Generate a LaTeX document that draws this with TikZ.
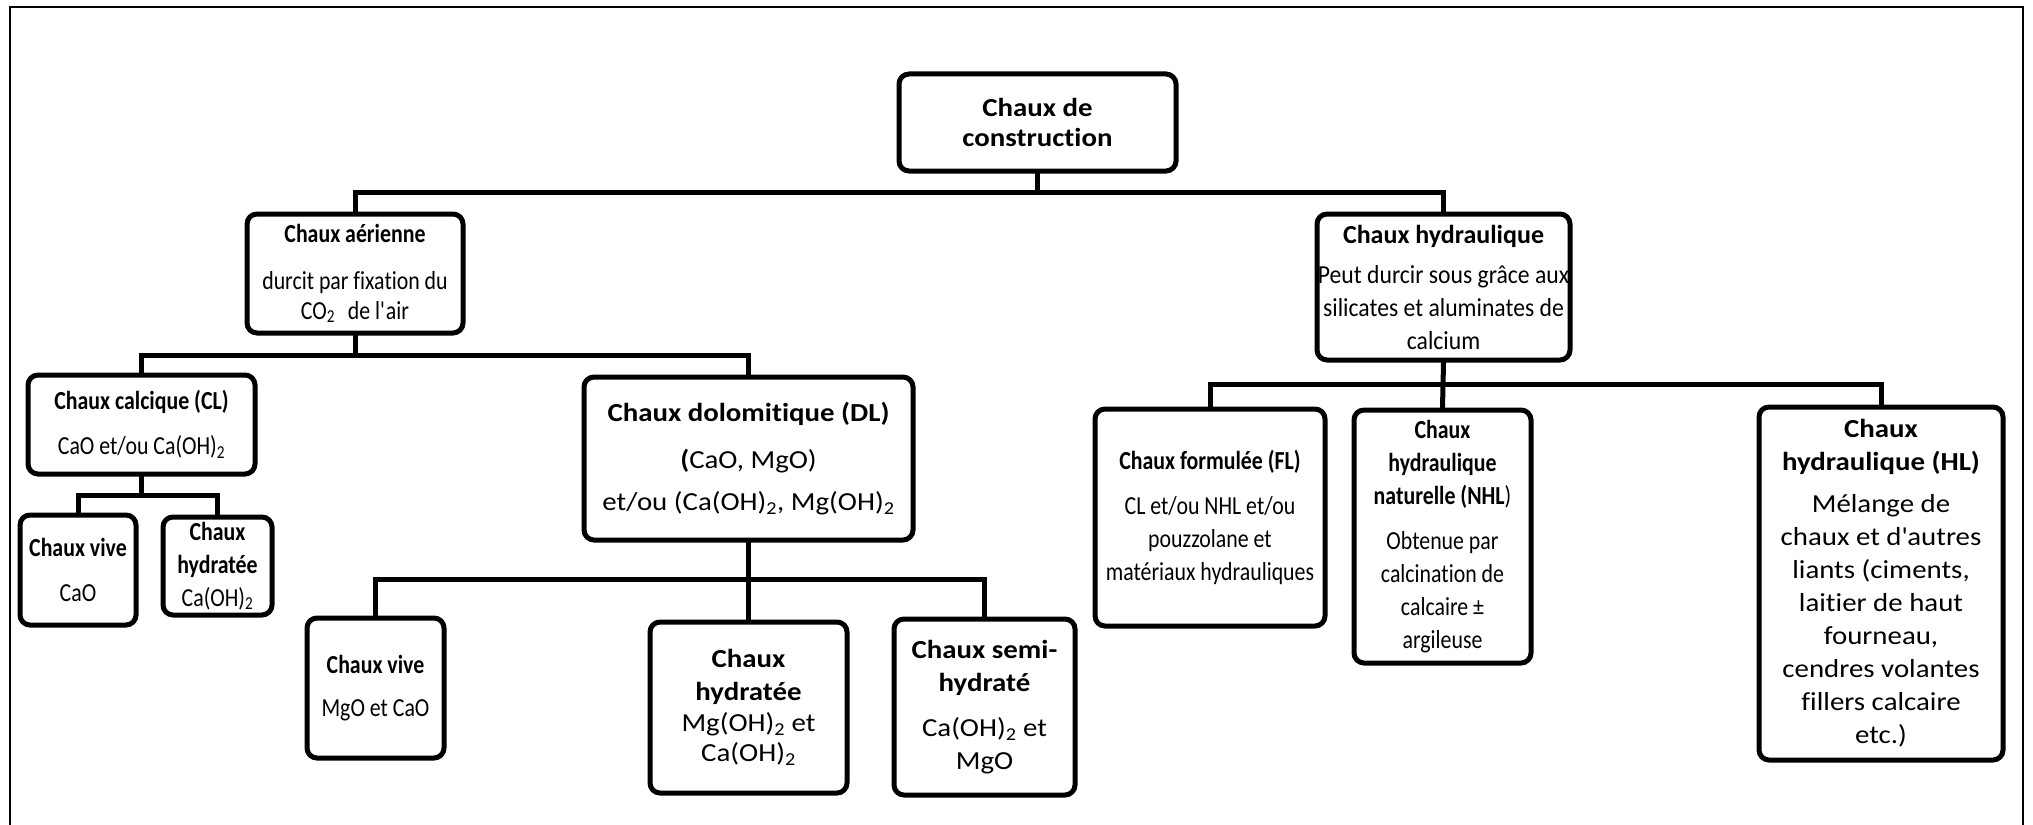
\documentclass[tikz,border=0pt]{standalone}
\usepackage{fontspec}
\setmainfont{Carlito}[Ligatures={NoCommon}]
\newfontfamily\narrowfam{Carlito}[FakeStretch=0.84, Ligatures={NoCommon}]
\newfontfamily\widefam{Carlito}[FakeStretch=1.11, Ligatures={NoCommon}]
\newfontfamily\hydfam{Carlito}[FakeStretch=0.91, Ligatures={NoCommon}]
\newcommand{\apos}{\textquotesingle}
\begin{document}
\begin{tikzpicture}[x=1pt,y=-1pt,
  box/.style={draw, line width=5pt, rounded corners=10pt, inner sep=0pt, align=center, fill=white},
  fsmall/.style={font=\fontsize{26}{33}\narrowfam},
  fbig/.style={font=\fontsize{26}{33}\widefam},
  conn/.style={line width=5pt, line join=miter, line cap=rect},
  frame/.style={line width=2pt}]
\useasboundingbox (0,0) rectangle (2033,824);
\draw[frame] (10,830) -- (10,7) -- (2023,7) -- (2023,830);

\node[box, fbig, minimum width=277pt, minimum height=97pt] (root) at (1037.5,122.5)
  {\textbf{Chaux de}\\[-3pt]\textbf{construction}};
\node[box, fsmall, minimum width=216pt, minimum height=119pt] (aer) at (355,273.5)
  {\textbf{Chaux aérienne}\\[14pt]durcit par fixation du\\[-3pt]CO\textsubscript{2}\hspace{0.3em} de l\apos air};
\node[box, font=\fontsize{26}{33}\hydfam, minimum width=253pt, minimum height=146pt] (hyd) at (1443.5,287)
  {{\rmfamily\textbf{Chaux hydraulique}}\\[7pt]Peut durcir sous grâce aux\\silicates et aluminates de\\calcium};
\node[box, fsmall, minimum width=227pt, minimum height=99pt] (cl) at (141.5,424.5)
  {\textbf{Chaux calcique (CL)}\\[12pt]CaO et/ou Ca(OH)\textsubscript{2}};
\node[box, fbig, minimum width=329pt, minimum height=163pt] (dl) at (748.5,458.5)
  {\textbf{Chaux dolomitique (DL)}\\[14pt]\textbf{(}CaO, MgO)\\[9pt]et/ou (Ca(OH)\textsubscript{2}, Mg(OH)\textsubscript{2}};
\node[box, fsmall, minimum width=116pt, minimum height=110pt] (clv) at (78,570)
  {\textbf{Chaux vive}\\[12pt]CaO};
\node[box, fsmall, minimum width=109pt, minimum height=98pt] (clh) at (217.5,566)
  {\textbf{Chaux}\\\textbf{hydratée}\\Ca(OH)\textsubscript{2}};
\node[box, fsmall, minimum width=137pt, minimum height=140pt] (dlv) at (375.5,688)
  {\textbf{Chaux vive}\\[10pt]MgO et CaO};
\node[box, fbig, minimum width=197pt, minimum height=171pt] (dlh) at (748.5,707.5)
  {\textbf{Chaux}\\\textbf{hydratée}\\[-2pt]Mg(OH)\textsubscript{2} et\\[-3pt]Ca(OH)\textsubscript{2}};
\node[box, fbig, minimum width=181pt, minimum height=176pt] (dls) at (984.5,707)
  {\textbf{Chaux semi-}\\\textbf{hydraté}\\[12pt]Ca(OH)\textsubscript{2} et\\MgO};
\node[box, fsmall, minimum width=230pt, minimum height=217pt] (fl) at (1210,517.5)
  {\textbf{Chaux formulée (FL)}\\[12pt]CL et/ou NHL et/ou\\pouzzolane et\\matériaux hydrauliques};
\node[box, fsmall, minimum width=177pt, minimum height=253pt] (nhl) at (1442.5,536.5)
  {\textbf{Chaux}\\\textbf{hydraulique}\\\textbf{naturelle (NHL})\\[12pt]Obtenue par\\calcination de\\calcaire ±\\argileuse};
\node[box, fbig, minimum width=244pt, minimum height=353pt] (hl) at (1881,583.5)
  {\textbf{Chaux}\\\textbf{hydraulique (HL)}\\[9pt]Mélange de\\chaux et d\apos autres\\liants (ciments,\\laitier de haut\\fourneau,\\cendres volantes\\fillers calcaire\\etc.)};

% level 1
\draw[conn] (root.south) -- (root.south |- 0,192);
\draw[conn] (aer.north) -- (aer.north |- 0,192) -- (hyd.north |- 0,192) -- (hyd.north);
% aerienne
\draw[conn] (aer.south) -- (aer.south |- 0,355);
\draw[conn] (cl.north) -- (cl.north |- 0,355) -- (dl.north |- 0,355) -- (dl.north);
% calcique
\draw[conn] (cl.south) -- (cl.south |- 0,495);
\draw[conn] (clv.north) -- (clv.north |- 0,495) -- (clh.north |- 0,495) -- (clh.north);
% dolomitique
\draw[conn] (dlv.north) -- (dlv.north |- 0,579) -- (dls.north |- 0,579) -- (dls.north);
\draw[conn] (dl.south) -- (dlh.north);
% hydraulique
\draw[conn] (fl.north) -- (fl.north |- 0,384) -- (hl.north |- 0,384) -- (hl.north);
\draw[conn] (hyd.south) -- (nhl.north);
\end{tikzpicture}
\end{document}
